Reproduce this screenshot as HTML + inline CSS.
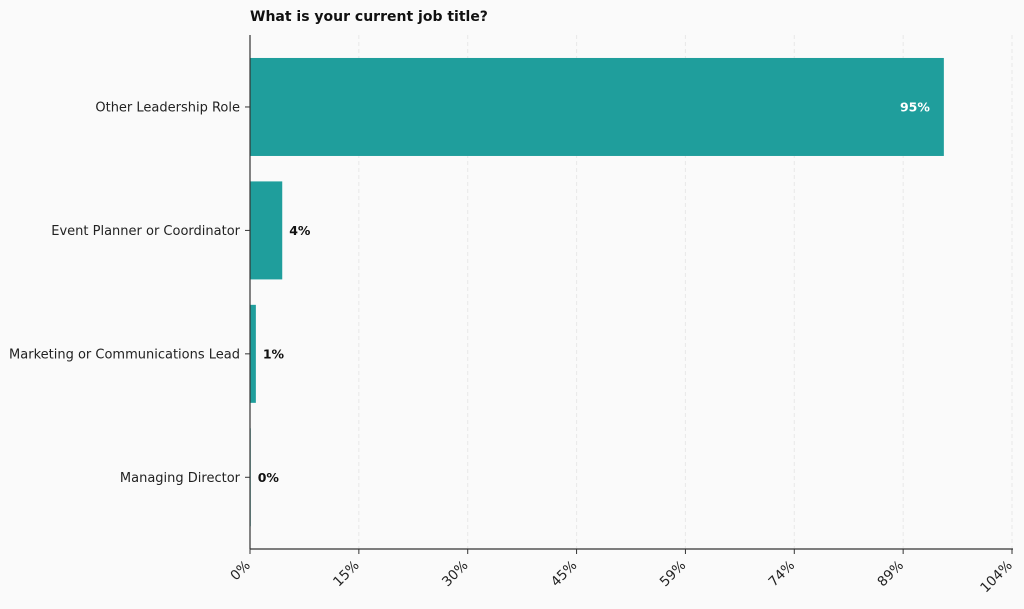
<!DOCTYPE html>
<html><head><meta charset="utf-8"><style>
body{margin:0;background:#fafafa;}
svg{display:block;font-family:"DejaVu Sans","Liberation Sans",sans-serif;}
</style></head><body>
<svg id="c" width="1024" height="609">
<text x="250" y="21" font-size="14" font-weight="bold" fill="#111">What is your current job title?</text>
</svg>
<script>
const categories=["Other Leadership Role","Event Planner or Coordinator","Marketing or Communications Lead","Managing Director"];
const values=[94.7,4.4,0.8,0.1];
const valueLabels=["95%","4%","1%","0%"];
const tickValues=[0,14.857,29.714,44.571,59.429,74.286,89.143,104];
const tickLabels=["0%","15%","30%","45%","59%","74%","89%","104%"];
const NS="http://www.w3.org/2000/svg";
const svg=document.getElementById('c');
const x0=250,x1=1012,xmax=104,yTop=35,yBot=549,cTop=45.25,cBot=539;
const xs=v=>x0+(v/xmax)*(x1-x0);
const band=(cBot-cTop)/categories.length;
const yc=i=>cTop+band*(i+0.5);
const bh=98;
function mk(t,a){const e=document.createElementNS(NS,t);for(const k in a)e.setAttribute(k,a[k]);svg.appendChild(e);return e;}
tickValues.forEach((v,i)=>{
  if(i>0){const g=mk('line',{x1:xs(v),x2:xs(v),y1:yTop,y2:yBot,stroke:'#e8e8e8','stroke-dasharray':'4,3'});
  
  }
  const t=mk('line',{x1:xs(v),x2:xs(v),y1:yBot,y2:yBot+5,stroke:'#333'});
  
  
  const ax=xs(v)+1, ay=yBot+17;
  const l=mk('text',{x:ax,y:ay,'font-size':13.5,fill:'#222','text-anchor':'end',transform:`rotate(-45 ${ax} ${ay})`});
  l.textContent=tickLabels[i];
  
  
});
categories.forEach((c,i)=>{
  const r=mk('rect',{x:x0,y:yc(i)-bh/2,width:xs(values[i])-x0,height:bh,fill:'#1f9e9c'});
  
  
  const yt=mk('line',{x1:x0-5,x2:x0,y1:yc(i),y2:yc(i),stroke:'#333'});
  
  
  const l=mk('text',{x:x0-10,y:yc(i)+4.5,'font-size':13,fill:'#222','text-anchor':'end'});
  l.textContent=c;
  
  
  const inside=values[i]>50;
  const v=mk('text',{x:inside?xs(values[i])-14:xs(values[i])+7,y:yc(i)+4.5,'font-size':12.5,'font-weight':'bold',fill:inside?'#fff':'#111','text-anchor':inside?'end':'start'});
  v.textContent=valueLabels[i];
  
  
});
const ya=mk('line',{x1:x0,x2:x0,y1:yTop,y2:yBot,stroke:'#333','stroke-width':1.2});


const xa=mk('line',{x1:x0,x2:x1+1,y1:yBot,y2:yBot,stroke:'#333','stroke-width':1.2});


</script>
</body></html>
